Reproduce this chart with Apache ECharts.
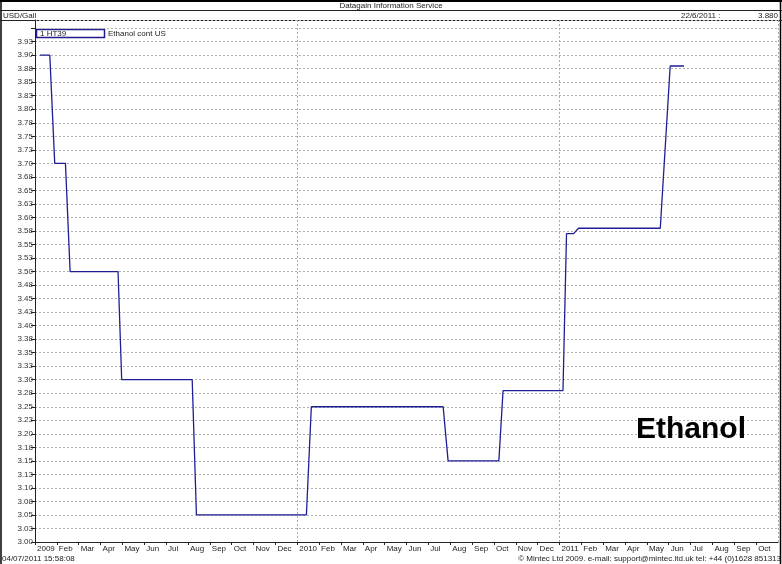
<!DOCTYPE html>
<html>
<head>
<meta charset="utf-8">
<script src="https://cdn.jsdelivr.net/npm/echarts@6/dist/echarts.min.js"></script>
<style>
html,body{margin:0;padding:0;background:#fff;}
#chart{width:782px;height:564px;}
</style>
</head>
<body>
<div id="chart"></div>
<script>
// ---- data ----
const dates = ['2009-01-08','2009-01-22','2009-01-29','2009-02-12','2009-02-18','2009-04-25','2009-04-30','2009-08-07','2009-08-13',
  '2010-01-14','2010-01-21','2010-07-22','2010-07-29','2010-10-08','2010-10-14',
  '2011-01-06','2011-01-11','2011-01-21','2011-01-28','2011-05-20','2011-06-03','2011-06-22'];
const prices = [3.90,3.90,3.70,3.70,3.50,3.50,3.30,3.30,3.05,
  3.05,3.25,3.25,3.15,3.15,3.28,
  3.28,3.57,3.57,3.58,3.58,3.88,3.88];
const xLabels = ['2009','Feb','Mar','Apr','May','Jun','Jul','Aug','Sep','Oct','Nov','Dec',
  '2010','Feb','Mar','Apr','May','Jun','Jul','Aug','Sep','Oct','Nov','Dec',
  '2011','Feb','Mar','Apr','May','Jun','Jul','Aug','Sep','Oct','Nov'];
const yLabels = ['3.00','3.03','3.05','3.08','3.10','3.13','3.15','3.18','3.20','3.23','3.25','3.28','3.30','3.33','3.35','3.38',
  '3.40','3.43','3.45','3.48','3.50','3.53','3.55','3.58','3.60','3.63','3.65','3.68','3.70','3.73','3.75','3.78',
  '3.80','3.83','3.85','3.88','3.90','3.93'];

// convert a date to fractional months since Jan 2009
function monthPos(s){
  const p = s.split('-').map(Number);
  const dim = new Date(p[0], p[1], 0).getDate();
  return (p[0]-2009)*12 + (p[1]-1) + (p[2]-1)/dim;
}
const seriesData = dates.map((d,i)=>[monthPos(d), prices[i]]);

const FONT = 'Liberation Sans, Arial, sans-serif';
const small = {fontSize:8, fontWeight:'normal', fontFamily:FONT, color:'#222'};
const chart = echarts.init(document.getElementById('chart'), null, {renderer:'canvas'});
chart.setOption({
  animation:false,
  backgroundColor:'#fff',
  grid:{left:35, top:20, width:743, height:522, containLabel:false},
  xAxis:[{
    type:'value', min:0, max:34, interval:1,
    axisLine:{show:true, lineStyle:{color:'#222', width:1}},
    axisTick:{show:true, length:3, lineStyle:{color:'#222'}},
    axisLabel:{show:true, fontSize:8, fontFamily:FONT, color:'#222', align:'left', margin:3,
      padding:[0,0,0,2], showMaxLabel:false,
      formatter:function(v){ const i=Math.round(v); return xLabels[i]||''; }},
    splitLine:{show:false}
  },{
    type:'value', min:0, max:34, interval:12, position:'bottom',
    axisLine:{show:false}, axisTick:{show:false}, axisLabel:{show:false},
    splitLine:{show:true, lineStyle:{color:'#aaa', type:[2,2], width:1}}
  }],
  yAxis:{
    type:'value', min:3, max:3.965, interval:0.025,
    axisLine:{show:true, lineStyle:{color:'#222', width:1}},
    axisTick:{show:true, length:4, lineStyle:{color:'#222'}},
    axisLabel:{fontSize:8, fontFamily:FONT, color:'#333', margin:2, showMaxLabel:false,
      formatter:function(v){ const i=Math.round((v-3)/0.025); return yLabels[i]||''; }},
    splitLine:{show:true, lineStyle:{color:'#b0b0b0', type:[2,2], width:1}}
  },
  series:[{
    type:'line', name:'Ethanol cont US', data:seriesData, showSymbol:false, symbol:'none',
    lineStyle:{color:'#1e1e96', width:1.3}, itemStyle:{color:'#1e1e96'}
  }],
  title:[
    {text:'Datagain Information Service', left:'center', top:2, padding:0, textStyle:small},
    {text:'USD/Gall', left:3, top:12, padding:0, textStyle:small},
    {text:'22/6/2011 :', left:681, top:12, padding:0, textStyle:small},
    {text:'3.880', right:4, top:12, padding:0, textStyle:small},
    {text:'04/07/2011 15:58:08', left:2, top:555, padding:0, textStyle:small},
    {text:'\u00A9 Mintec Ltd 2009. e-mail: support@mintec.ltd.uk tel: +44 (0)1628 851313', right:1, top:555, padding:0, textStyle:small},
    {text:'Ethanol', left:636, top:415, padding:0, textStyle:{fontSize:30, fontWeight:'bold', fontFamily:FONT, color:'#000'}}
  ],
  graphic:[
    {type:'line', shape:{x1:0, y1:1, x2:782, y2:1}, style:{stroke:'#000', lineWidth:2}},
    {type:'line', shape:{x1:1, y1:0, x2:1, y2:564}, style:{stroke:'#000', lineWidth:1.5}},
    {type:'line', shape:{x1:780.5, y1:0, x2:780.5, y2:564}, style:{stroke:'#000', lineWidth:1.5}},
    {type:'line', shape:{x1:0, y1:10.5, x2:782, y2:10.5}, style:{stroke:'#222', lineWidth:1}},
    {type:'line', shape:{x1:0, y1:20.5, x2:782, y2:20.5}, style:{stroke:'#222', lineWidth:1}},
    {type:'rect', shape:{x:36.5, y:29.5, width:68, height:8}, style:{fill:'#fff', stroke:'#1e1e8c', lineWidth:1.5}},
    {type:'text', x:40, y:29.5, style:{text:'1 HT39', font:'8px '+FONT, fill:'#222'}},
    {type:'text', x:108, y:29.5, style:{text:'Ethanol cont US', font:'8px '+FONT, fill:'#222'}}
  ]
});
</script>
</body>
</html>
